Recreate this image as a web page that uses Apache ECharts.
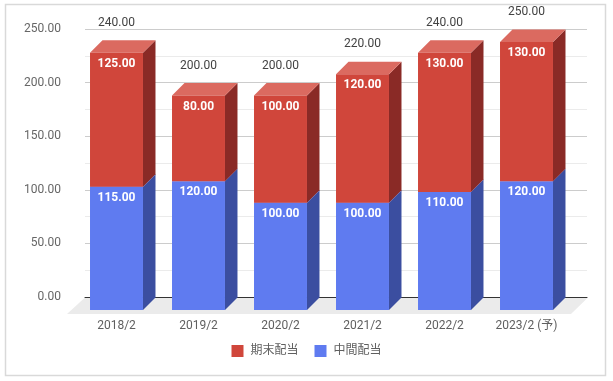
<!DOCTYPE html>
<html>
<head>
<meta charset="utf-8">
<script src="https://cdn.jsdelivr.net/npm/echarts@6/dist/echarts.min.js"></script>
<style>html,body{margin:0;padding:0;background:#fff}#c{width:613px;height:381px}</style>
</head>
<body>
<div id="c"></div>
<script>
const categories = ['2018/2', '2019/2', '2020/2', '2021/2', '2022/2', '2023/2 (予)'];
const interimDiv = [115, 120, 100, 100, 110, 120];   // 中間配当
const yearEndDiv = [125, 80, 100, 120, 130, 130];    // 期末配当
const totals = [240, 200, 200, 220, 240, 250];
const yTicks = [0, 50, 100, 150, 200, 250];

const FONT = 'Roboto, "Noto Sans CJK JP", sans-serif';
const D = 12.5;

const colors = {
  red: {front: '#d0463b', side: '#8a2a26', top: '#db6a60'},
  blue: {front: '#5f7bf0', side: '#3b4ea0', top: '#7d93f2'}
};

function makeRender(c, withTotal) {
  return function (params, api) {
    const i = api.value(0), base = api.value(1), top = api.value(2);
    const pT = api.coord([i, top]);
    const pB = api.coord([i, base]);
    const w = api.size([1, 0])[0] * 0.646;
    const x0 = pT[0] - w / 2, x1 = x0 + w, yT = pT[1], yB = pB[1];
    const children = [
      {type: 'polygon', shape: {points: [[x1, yB], [x1, yT], [x1 + D, yT - D], [x1 + D, yB - D]]}, style: {fill: c.side}},
      {type: 'polygon', shape: {points: [[x0, yT], [x1, yT], [x1 + D, yT - D], [x0 + D, yT - D]]}, style: {fill: c.top}},
      {type: 'rect', shape: {x: x0, y: yT, width: w, height: yB - yT}, style: {fill: c.front}},
      {type: 'text', style: {text: (top - base).toFixed(2), x: pT[0], y: yT + 11, align: 'center', verticalAlign: 'middle',
        fill: '#ffffff', font: 'bold 12px ' + FONT}}
    ];
    if (withTotal) {
      children.push({type: 'text', style: {text: api.value(3).toFixed(2), x: pT[0], y: yT - 30, align: 'center', verticalAlign: 'middle',
        fill: '#424242', font: '12px ' + FONT}});
    }
    return {type: 'group', children: children};
  };
}

const blueData = categories.map((_, i) => [i, 0, interimDiv[i]]);
const redData = categories.map((_, i) => [i, interimDiv[i], interimDiv[i] + yearEndDiv[i], totals[i]]);

const chart = echarts.init(document.getElementById('c'), null, {renderer: 'canvas'});
chart.setOption({
  animation: false,
  textStyle: {fontFamily: FONT},
  graphic: [{type: 'rect', shape: {x: 5.5, y: 4.5, width: 600, height: 371}, style: {fill: 'none', stroke: '#d9d9d9', lineWidth: 1.5}, z: -10}],
  legend: {
    data: ['期末配当', '中間配当'],
    left: 'center', top: 340, icon: 'rect', itemWidth: 12, itemHeight: 12, itemGap: 16,
    textStyle: {color: '#5f5f5f', fontSize: 12, fontFamily: FONT, padding: [0, 0, 0, 2]}
  },
  grid: [
    {left: 85, right: 26, top: 29, height: 268},
    {left: 75.5, right: 45.5, top: 42, height: 268}
  ],
  xAxis: [
    {type: 'category', gridIndex: 0, data: categories, axisLabel: {show: false}, axisTick: {show: false},
      axisLine: {show: true, lineStyle: {color: '#333333', width: 1}}, z: 3},
    {type: 'category', gridIndex: 1, data: categories, axisTick: {show: false}, axisLine: {show: false},
      axisLabel: {color: '#5f5f5f', fontSize: 12, margin: 10, fontFamily: FONT}}
  ],
  yAxis: [
    {type: 'value', gridIndex: 0, min: 0, max: 250, interval: 50,
      axisLabel: {color: '#666666', fontSize: 12, margin: 24, formatter: v => v.toFixed(2), fontFamily: FONT},
      axisLine: {show: false}, axisTick: {show: false},
      splitLine: {lineStyle: {color: '#cccccc'}},
      minorTick: {show: false, splitNumber: 2},
      minorSplitLine: {show: true, lineStyle: {color: '#ebebeb'}}},
    {type: 'value', gridIndex: 1, min: 0, max: 250, interval: 50, show: false, splitLine: {show: false}}
  ],
  series: [
    {type: 'custom', name: 'floor', xAxisIndex: 0, yAxisIndex: 0, silent: true, z: 1, data: [[0, 0]],
      renderItem: function (params, api) {
        const cs = params.coordSys;
        const yb = cs.y + cs.height;
        return {type: 'polygon', shape: {points: [[cs.x, yb + 0.5], [cs.x + cs.width + 1, yb + 0.5], [cs.x + cs.width - 16, yb + 17], [cs.x - 18, yb + 17]]},
          style: {fill: '#ebebeb'}};
      }},
    {type: 'custom', name: '中間配当', xAxisIndex: 1, yAxisIndex: 1, z: 5, itemStyle: {color: colors.blue.front},
      encode: {x: 0, y: 2}, data: blueData, renderItem: makeRender(colors.blue, false)},
    {type: 'custom', name: '期末配当', xAxisIndex: 1, yAxisIndex: 1, z: 6, itemStyle: {color: colors.red.front},
      encode: {x: 0, y: 2}, data: redData, renderItem: makeRender(colors.red, true)}
  ]
});
</script>
</body>
</html>
